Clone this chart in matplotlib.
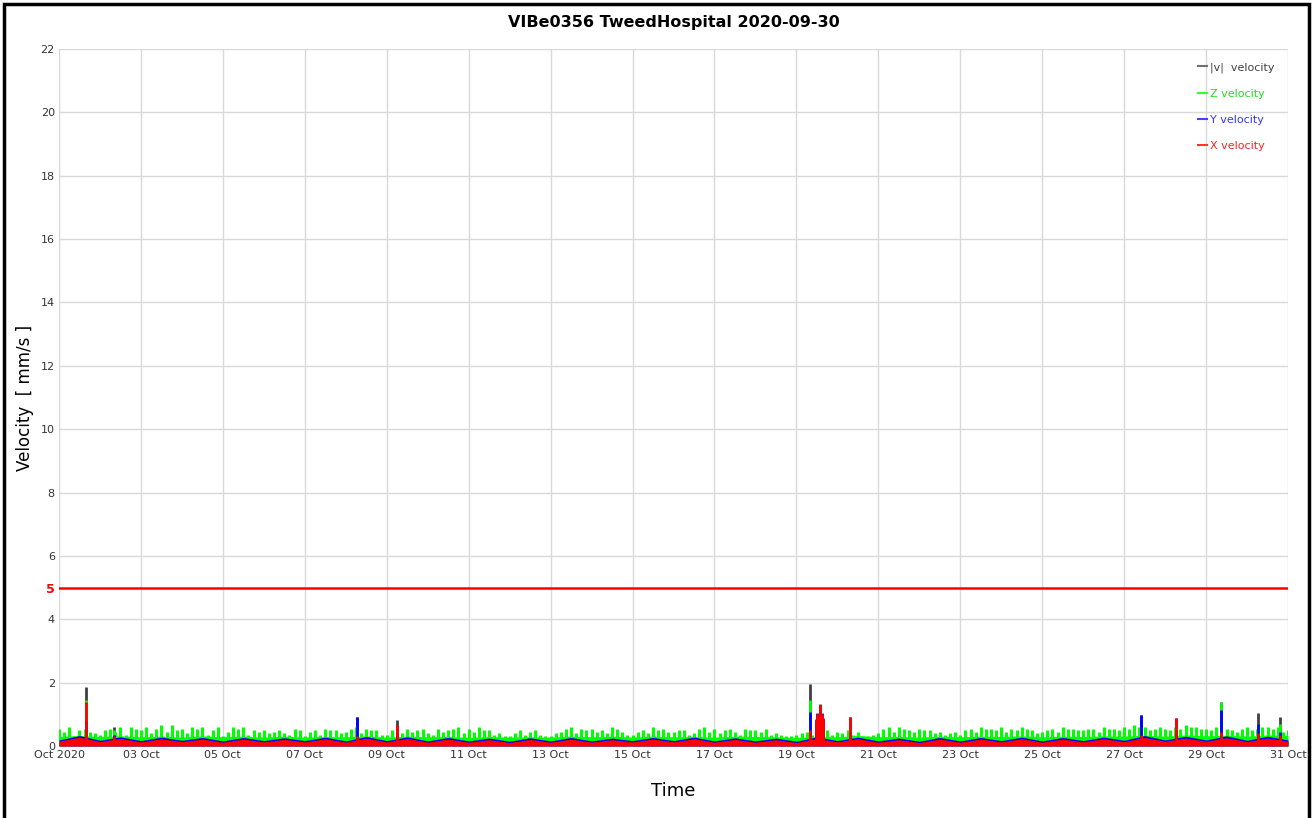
import numpy as np
import pandas as pd
import matplotlib.pyplot as plt
from matplotlib.patches import Rectangle

# Values (mm/s), time in days since 01 Oct 2020
start = pd.Timestamp('2020-10-01')

# Z velocity spike tops every 6 hours
green_peak = [0.55, 0.60, 0.50, 0.45, 0.35, 0.55, 0.60, 0.60, 0.50, 0.40, 0.65, 0.65,
              0.55, 0.60, 0.60, 0.50, 0.30, 0.60, 0.60, 0.50, 0.50, 0.45, 0.40, 0.55,
              0.30, 0.50, 0.55, 0.50, 0.45, 0.60, 0.55, 0.50, 0.35, 0.45, 0.55, 0.50,
              0.40, 0.55, 0.50, 0.60, 0.55, 0.60, 0.50, 0.40, 0.30, 0.50, 0.45, 0.35,
              0.30, 0.45, 0.60, 0.55, 0.55, 0.50, 0.60, 0.45, 0.35, 0.50, 0.60, 0.55,
              0.45, 0.50, 0.40, 0.60, 0.55, 0.50, 0.45, 0.55, 0.50, 0.55, 0.40, 0.30,
              0.35, 0.45, 0.55, 0.50, 0.45, 0.50, 0.45, 0.30, 0.40, 0.60, 0.60, 0.50,
              0.55, 0.50, 0.45, 0.40, 0.35, 0.55, 0.60, 0.55, 0.60, 0.55, 0.60, 0.50,
              0.45, 0.55, 0.60, 0.55, 0.50, 0.55, 0.60, 0.55, 0.60, 0.65, 0.60, 0.55,
              0.55, 0.60, 0.65, 0.60, 0.55, 0.60, 0.55, 0.45, 0.60, 0.55, 0.60, 0.60,
              0.50]
# second set of Z spikes, offset by 3 hours
green_peak2 = [0.45, 0.30, 0.55, 0.40, 0.50, 0.45, 0.35, 0.55, 0.60, 0.55, 0.45, 0.50,
               0.40, 0.55, 0.35, 0.60, 0.45, 0.55, 0.35, 0.45, 0.40, 0.50, 0.35, 0.50,
               0.45, 0.35, 0.50, 0.40, 0.55, 0.40, 0.50, 0.35, 0.50, 0.40, 0.45, 0.55,
               0.35, 0.45, 0.55, 0.40, 0.45, 0.50, 0.35, 0.30, 0.40, 0.35, 0.50, 0.30,
               0.40, 0.55, 0.40, 0.50, 0.45, 0.40, 0.55, 0.35, 0.45, 0.40, 0.50, 0.45,
               0.50, 0.35, 0.55, 0.45, 0.40, 0.55, 0.35, 0.50, 0.45, 0.35, 0.35, 0.30,
               0.40, 0.35, 0.45, 0.35, 0.40, 0.35, 0.30, 0.35, 0.55, 0.45, 0.55, 0.45,
               0.50, 0.40, 0.35, 0.45, 0.50, 0.45, 0.55, 0.50, 0.45, 0.50, 0.55, 0.40,
               0.50, 0.45, 0.55, 0.50, 0.55, 0.45, 0.55, 0.50, 0.55, 0.60, 0.50, 0.60,
               0.50, 0.55, 0.60, 0.55, 0.50, 0.45, 0.50, 0.55, 0.50, 0.60, 0.55, 0.45]
# Z velocity floor, Y and X velocity every 12 hours
green_base = [0.30, 0.33, 0.30, 0.32, 0.29, 0.31, 0.28, 0.32, 0.29, 0.31, 0.28, 0.31,
              0.28, 0.30, 0.29, 0.32, 0.28, 0.31, 0.29, 0.30, 0.27, 0.30, 0.28, 0.29,
              0.28, 0.31, 0.29, 0.31, 0.28, 0.31, 0.29, 0.30, 0.28, 0.31, 0.30, 0.29,
              0.27, 0.30, 0.29, 0.33, 0.29, 0.30, 0.28, 0.31, 0.29, 0.31, 0.30, 0.32,
              0.29, 0.31, 0.30, 0.32, 0.31, 0.34, 0.31, 0.35, 0.32, 0.34, 0.31, 0.35,
              0.33]
blue_top = [0.19, 0.33, 0.18, 0.29, 0.17, 0.28, 0.18, 0.27, 0.16, 0.27, 0.17, 0.26,
            0.17, 0.28, 0.16, 0.30, 0.17, 0.29, 0.16, 0.27, 0.16, 0.25, 0.15, 0.26,
            0.16, 0.27, 0.16, 0.25, 0.17, 0.27, 0.17, 0.28, 0.16, 0.26, 0.16, 0.25,
            0.15, 0.29, 0.17, 0.28, 0.16, 0.25, 0.15, 0.27, 0.16, 0.27, 0.17, 0.28,
            0.16, 0.27, 0.17, 0.28, 0.18, 0.33, 0.19, 0.31, 0.19, 0.32, 0.18, 0.31,
            0.19]
red_top = [0.15, 0.28, 0.14, 0.24, 0.13, 0.23, 0.14, 0.22, 0.12, 0.22, 0.13, 0.21,
           0.13, 0.23, 0.12, 0.25, 0.13, 0.24, 0.12, 0.22, 0.12, 0.20, 0.11, 0.21,
           0.12, 0.22, 0.12, 0.20, 0.13, 0.22, 0.13, 0.23, 0.12, 0.21, 0.12, 0.20,
           0.11, 0.24, 0.13, 0.23, 0.12, 0.20, 0.11, 0.22, 0.12, 0.22, 0.13, 0.23,
           0.12, 0.22, 0.13, 0.23, 0.14, 0.27, 0.15, 0.25, 0.15, 0.26, 0.14, 0.25,
           0.15]

# Isolated spikes: time (days), |v|, Z, Y, X
spike_day = [0.65, 1.35, 7.27, 8.24, 18.33, 18.47, 18.51, 18.55, 18.58, 18.62, 18.66,
             19.30, 26.40, 27.27, 28.37, 29.27, 29.80]
spike_v = [1.85, 0.60, 0.92, 0.82, 1.97, 0.85, 1.05, 1.00, 1.32, 1.05, 0.88,
           0.93, 0.98, 0.88, 1.38, 1.03, 0.92]
spike_z = [1.45, 0.50, 0.55, 0.45, 1.45, 0.70, 0.75, 0.70, 0.80, 0.75, 0.65,
           0.50, 0.60, 0.60, 1.38, 0.65, 0.70]
spike_y = [0.80, 0.35, 0.90, 0.40, 1.07, 0.80, 1.00, 0.95, 1.10, 1.00, 0.80,
           0.45, 0.97, 0.50, 1.13, 0.70, 0.45]
spike_x = [1.40, 0.30, 0.30, 0.65, 0.50, 0.82, 1.00, 0.95, 1.30, 1.00, 0.85,
           0.92, 0.35, 0.87, 0.45, 0.40, 0.35]

tick_days = [0, 2, 4, 6, 8, 10, 12, 14, 16, 18, 20, 22, 24, 26, 28, 30]
tick_labels = ['Oct 2020', '03 Oct', '05 Oct', '07 Oct', '09 Oct', '11 Oct', '13 Oct',
               '15 Oct', '17 Oct', '19 Oct', '21 Oct', '23 Oct', '25 Oct', '27 Oct',
               '29 Oct', '31 Oct']
limit = 5

t6 = start + pd.to_timedelta(np.arange(len(green_peak)) * 0.25, unit='D')
t6b = start + pd.to_timedelta(np.arange(len(green_peak2)) * 0.25 + 0.125, unit='D')
t12 = start + pd.to_timedelta(np.arange(len(red_top)) * 0.5, unit='D')
ts = start + pd.to_timedelta(spike_day, unit='D')

fig = plt.figure(figsize=(13.12, 8.18), dpi=100)
ax = fig.add_axes([59 / 1312, 72 / 818, 1229 / 1312, 697 / 818])

# |v| behind, then Z, Y, X on top
ax.vlines(ts, 0, spike_v, color='#404040', lw=2, zorder=2)
ax.fill_between(t12, 0, green_base, color='#00ff00', lw=0, zorder=3)
ax.vlines(t6, 0, green_peak, color='#00ff00', lw=2.2, zorder=3)
ax.vlines(t6b, 0, green_peak2, color='#00ff00', lw=2.2, zorder=3)
ax.vlines(ts, 0, spike_z, color='#00ff00', lw=2, zorder=3)
ax.fill_between(t12, 0, blue_top, color='#0000ff', lw=0, zorder=4)
ax.vlines(ts, 0, spike_y, color='#0000ff', lw=2, zorder=4)
ax.fill_between(t12, 0, red_top, color='#ff0000', lw=0, zorder=5)
ax.vlines(ts, 0, spike_x, color='#ff0000', lw=2, zorder=5)

ax.axhline(limit, color='#ff0000', lw=1.8, zorder=6)

# legend handles
ax.plot([], [], color='#707070', label='|v|  velocity')
ax.plot([], [], color='#33ff33', label='Z velocity')
ax.plot([], [], color='#4444ff', label='Y velocity')
ax.plot([], [], color='#ff3333', label='X velocity')
leg = ax.legend(loc='upper right', frameon=False, fontsize=8, handlelength=0.8,
                handletextpad=0.3, labelspacing=1.45, borderaxespad=0.8)
for txt, c in zip(leg.get_texts(), ['#404040', '#22dd22', '#3333ff', '#ff2222']):
    txt.set_color(c)

ax.set_xlim(start, start + pd.Timedelta(days=30))
ax.set_ylim(0, 22)
ax.set_xticks(start + pd.to_timedelta(tick_days, unit='D'))
ax.set_xticklabels(tick_labels, fontsize=8, color='#333333')
yt = [0, 2, 4, 5, 6, 8, 10, 12, 14, 16, 18, 20, 22]
ax.set_yticks(yt)
ax.set_yticklabels([str(v) for v in yt], fontsize=8, color='#333333')
for lab in ax.get_yticklabels():
    if lab.get_text() == str(limit):
        lab.set_color('#ff0000')
        lab.set_fontweight('bold')
        lab.set_fontsize(9)
ax.tick_params(length=0, pad=3)
ax.grid(True, color='#d9d9d9', lw=1)
ax.set_axisbelow(True)
for s in ax.spines.values():
    s.set_visible(False)
ax.axvline(start, color='#d9d9d9', lw=1.5, zorder=0)
ax.yaxis.get_gridlines()[3].set_visible(False)

ax.set_title('VIBe0356 TweedHospital 2020-09-30', fontsize=11.5, fontweight='bold', pad=16)
ax.set_ylabel('Velocity  [ mm/s ]', fontsize=12, labelpad=5)
ax.set_xlabel('Time', fontsize=13, labelpad=16)

fig.patches.append(Rectangle((4 / 1312, -0.01), 1305 / 1312, 1.005, transform=fig.transFigure,
                             fill=False, edgecolor='black', lw=2.5))

fig.savefig('out.png', dpi=100)
